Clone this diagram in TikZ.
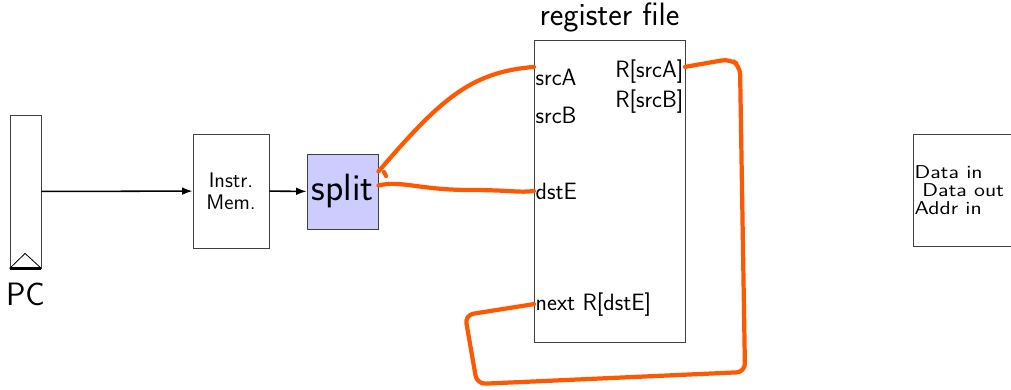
\documentclass[tikz,border=0pt]{standalone}
\usetikzlibrary{arrows.meta,positioning}
\definecolor{pen}{RGB}{255,88,0}
\tikzset{
    box/.style ={
        shape=rectangle,
        draw=black!75,
        line width=0.6pt,
        inner sep=0pt,
        font=\sffamily
    },
    pin/.style ={
        inner sep=1pt,
        font=\sffamily\fontsize{16.8}{18}\selectfont
    },
    bus/.style ={
        -{Latex[length=7.5pt,width=5.5pt]},
        line width=1.1pt
    },
    wire/.style ={
        draw=pen,
        line width=3pt,
        line cap=round,
        line join=round
    }
}

\begin{document}
\begin{tikzpicture}[x=0.025cm,y=-0.025cm]
    \useasboundingbox (0,0) rectangle (1011,389);
    \node[box, minimum width=0.775cm, minimum height=3.825cm] (pc) at (25.5,191.5) {};
    \node[box, minimum width=1.9cm, minimum height=2.85cm, align=center,
        font=\sffamily\fontsize{15}{15.8}\selectfont] (imem) at (231,191) {Instr.\\Mem.};
    \node[box, fill=blue!20, minimum width=1.775cm, minimum height=1.875cm,
        font=\sffamily\fontsize{27}{30}\selectfont] (split) at (342.5,191.5) {split};
    \node[box, minimum width=3.775cm, minimum height=7.55cm] (regfile) at (609.5,191) {};
    \node[box, minimum width=2.9cm, minimum height=2.8cm] (dmem) at (971,190) {};
    \draw[line width=0.6pt] (pc.south west) -- ++(15.5,-15) -- (pc.south east);
    \draw[line width=1.6pt] (pc.south west) -- (pc.south east);
    \node[inner sep=0pt, below=10pt of pc, font=\sffamily\fontsize{23}{26}\selectfont] (pcname) {PC};
    \node[inner sep=0pt, above=5pt of regfile, font=\sffamily\fontsize{23}{26}\selectfont] (rfname) {register file};
    \node[pin, anchor=base west] (srcA) at (534,85) {srcA};
    \node[pin, anchor=base west] (srcB) at (534,123) {srcB};
    \node[pin, anchor=base west] (dstE) at (534,199) {dstE};
    \node[pin, anchor=base west] (nextR) at (534,310) {next R[dstE]};
    \node[pin, anchor=base east] (RsrcA) at (685,77) {R[srcA]};
    \node[pin, anchor=base east] (RsrcB) at (685,107) {R[srcB]};
    \node[anchor=west, align=left, inner sep=1pt, xscale=1.2,
        font=\sffamily\fontsize{13.2}{13}\selectfont] (dmemio) at (dmem.west)
        {Data in\\\hspace*{0.35em}Data out\\Addr in};
    \draw[bus] (pc) -- (imem);
    \draw[bus] (imem) -- (split);
    % hand drawn wires
    \draw[wire] ([yshift=0.5cm]split.east) .. controls (440,100) and (470,72) .. (srcA.north west);
    \draw[wire] (384,172) -- (386,176);
    \draw[wire] ([yshift=0.15cm]split.east) .. controls (400,180) and (420,190) .. (470,190)
        .. controls (510,190) and (520,193) .. (dstE.west);
    \draw[wire, rounded corners=6pt] ([yshift=3pt]RsrcA.east) -- (730,59) -- (740,66)
        -- (745,372) -- (477,384) -- (465,315) -- (nextR.west);
\end{tikzpicture}
\end{document}
